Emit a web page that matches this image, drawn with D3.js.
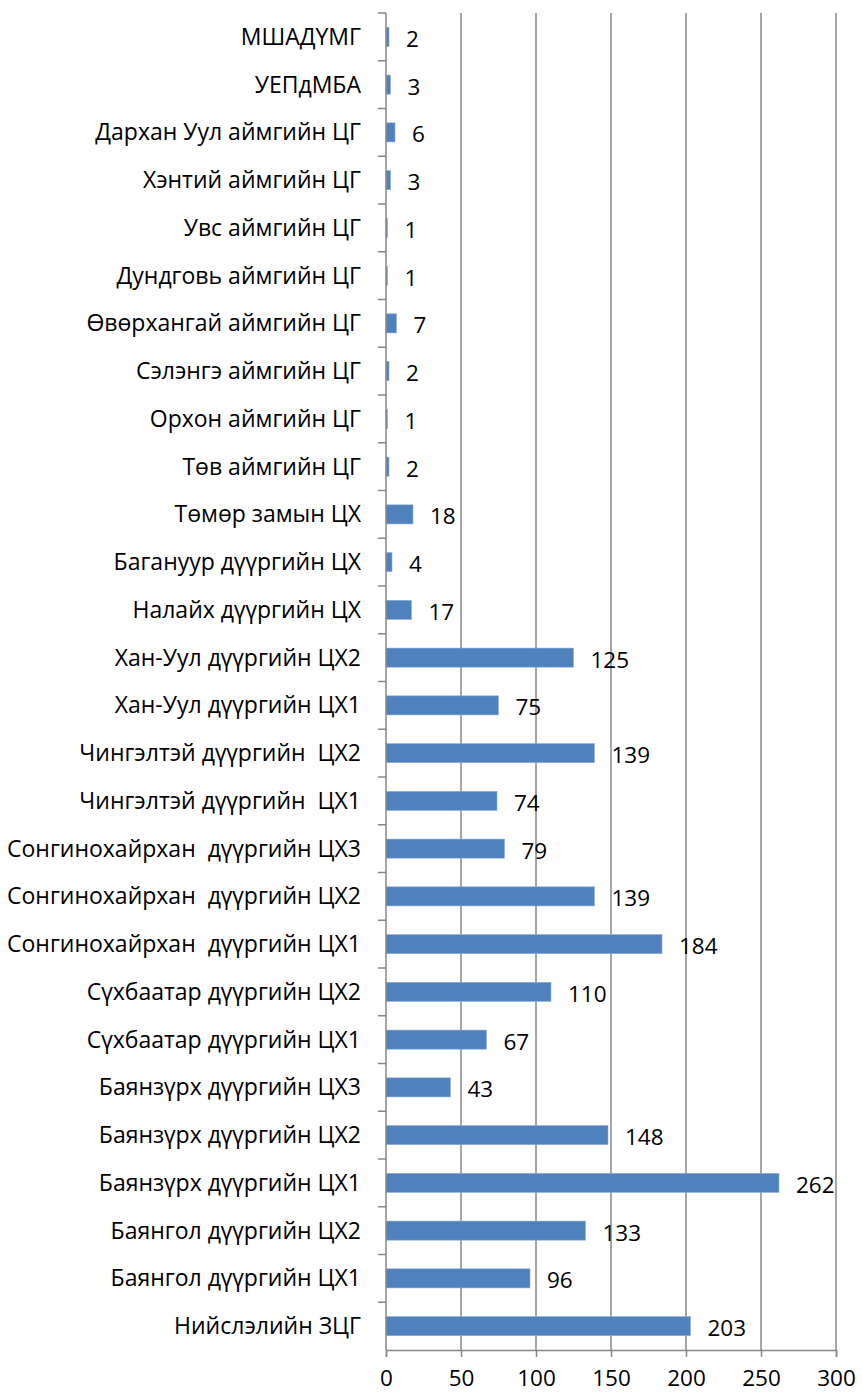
<!DOCTYPE html>
<html>
<meta charset="utf-8">
<script src="https://d3js.org/d3.v7.min.js"></script>
<style>
  body { margin: 0; background: #fff; }
  text { font-family: "Open Sans", Lato, sans-serif; }
</style>
<body>
<div id="chart"></div>
<script>
    // categories from top to bottom
    const categories = [
      "МШАДҮМГ", "УЕПдМБА", "Дархан Уул аймгийн ЦГ", "Хэнтий аймгийн ЦГ",
      "Увс аймгийн ЦГ", "Дундговь аймгийн ЦГ", "Өвөрхангай аймгийн ЦГ",
      "Сэлэнгэ аймгийн ЦГ", "Орхон аймгийн ЦГ", "Төв аймгийн ЦГ",
      "Төмөр замын ЦХ", "Багануур дүүргийн ЦХ", "Налайх дүүргийн ЦХ",
      "Хан-Уул дүүргийн ЦХ2", "Хан-Уул дүүргийн ЦХ1",
      "Чингэлтэй дүүргийн  ЦХ2", "Чингэлтэй дүүргийн  ЦХ1",
      "Сонгинохайрхан  дүүргийн ЦХ3", "Сонгинохайрхан  дүүргийн ЦХ2",
      "Сонгинохайрхан  дүүргийн ЦХ1",
      "Сүхбаатар дүүргийн ЦХ2", "Сүхбаатар дүүргийн ЦХ1",
      "Баянзүрх дүүргийн ЦХ3", "Баянзүрх дүүргийн ЦХ2", "Баянзүрх дүүргийн ЦХ1",
      "Баянгол дүүргийн ЦХ2", "Баянгол дүүргийн ЦХ1", "Нийслэлийн ЗЦГ"
    ];
    const values = [2, 3, 6, 3, 1, 1, 7, 2, 1, 2, 18, 4, 17, 125, 75, 139, 74,
                    79, 139, 184, 110, 67, 43, 148, 262, 133, 96, 203];
    const xTicks = [0, 50, 100, 150, 200, 250, 300];

    const data = categories.map((c, i) => ({ name: c, value: values[i] }));

    const margin = {top: 13, right: 26, bottom: 45, left: 386},
        width = 862 - margin.left - margin.right,
        height = 1395 - margin.top - margin.bottom;

    const svg = d3.select("#chart")
      .append("svg")
        .attr("width", 862)
        .attr("height", 1395)
      .append("g")
        .attr("transform", "translate(" + margin.left + "," + margin.top + ")");

    const x = d3.scaleLinear().domain([0, 300]).range([0, width]);
    const y = d3.scaleBand().domain(categories).range([0, height]).paddingInner(0.6).paddingOuter(0.3);
    const yb = d3.scaleBand().domain(categories).range([0, height]);

    // vertical gridlines
    svg.selectAll(".grid")
      .data(xTicks.slice(1))
      .enter().append("line")
        .attr("class", "grid")
        .attr("x1", d => x(d)).attr("x2", d => x(d))
        .attr("y1", 0).attr("y2", height)
        .attr("stroke", "#878787")
        .attr("stroke-width", 1.5);

    // x axis
    const xAxis = svg.append("g")
      .attr("transform", "translate(0," + height + ")")
      .call(d3.axisBottom(x).tickValues(xTicks).tickSize(7).tickPadding(13));
    xAxis.select(".domain").attr("stroke", "#878787").attr("stroke-width", 1.5);
    xAxis.selectAll(".tick line").attr("stroke", "#878787").attr("stroke-width", 1.5);
    xAxis.selectAll("text").style("font-size", "22.5px").attr("fill", "#000")
      .style("font-family", "'Open Sans', Lato, sans-serif");

    // bars
    svg.selectAll(".bar")
      .data(data)
      .enter().append("rect")
        .attr("class", "bar")
        .attr("x", 0)
        .attr("y", d => y(d.name))
        .attr("width", d => x(d.value))
        .attr("height", y.bandwidth())
        .attr("fill", "#4F81BD")
        .attr("stroke", "#8CAEDB")
        .attr("stroke-width", 0.6);

    // y axis line and ticks at band boundaries
    svg.append("line")
      .attr("x1", 0).attr("x2", 0).attr("y1", 0).attr("y2", height)
      .attr("stroke", "#878787").attr("stroke-width", 1.5);
    svg.selectAll(".ytick")
      .data(categories)
      .enter().append("line")
        .attr("class", "ytick")
        .attr("x1", -8).attr("x2", 0)
        .attr("y1", d => yb(d)).attr("y2", d => yb(d))
        .attr("stroke", "#878787").attr("stroke-width", 1.5);

    // category labels
    svg.selectAll(".cat")
      .data(data)
      .enter().append("text")
        .attr("class", "cat")
        .attr("x", -25)
        .attr("y", d => yb(d.name) + yb.bandwidth() / 2)
        .attr("dy", "0.35em")
        .attr("text-anchor", "end")
        .style("font-size", "23px")
        .style("white-space", "pre")
        .text(d => d.name);

    // value labels
    svg.selectAll(".val")
      .data(data)
      .enter().append("text")
        .attr("class", "val")
        .attr("x", d => x(d.value) + 17)
        .attr("y", d => yb(d.name) + yb.bandwidth() / 2 + 2)
        .attr("dy", "0.35em")
        .style("font-size", "22.5px")
        .text(d => d.value);
</script>
</body>
</html>
